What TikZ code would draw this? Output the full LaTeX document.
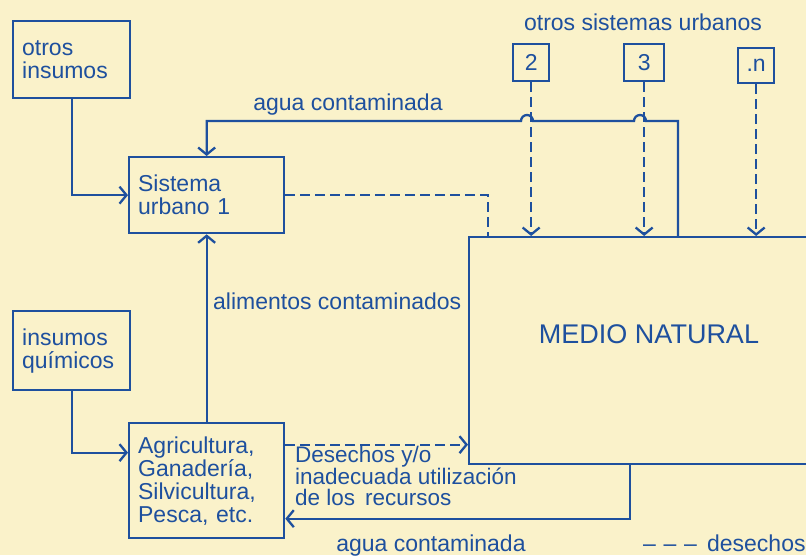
\documentclass[tikz,border=0pt]{standalone}
\usepackage{fontspec}
\setmainfont{Liberation Sans}
\usetikzlibrary{arrows.meta}
\definecolor{tinta}{RGB}{30,80,158}
\definecolor{papel}{RGB}{250,242,202}
\tikzset{
  caja/.style={draw=tinta, line width=2.3pt, text=tinta, align=left,
    anchor=north west, inner xsep=9pt, inner ysep=0pt},
  cajita/.style={draw=tinta, line width=2.3pt, text=tinta,
    anchor=north west, inner sep=0pt},
  rotulo/.style={text=tinta, inner sep=0pt},
  punta/.style={-{Straight Barb[length=7pt,width=17pt]}},
  flujo/.style={draw=tinta, line width=2.3pt, punta},
  desecho/.style={draw=tinta, line width=2.3pt, dash pattern=on 10pt off 5pt},
}
\begin{document}
\begin{tikzpicture}[x=1pt, y=-1pt, font=\fontsize{23}{23}\selectfont]
    \useasboundingbox (0,0) rectangle (806,555);
    \fill[papel] (0,0) rectangle (806,555);
    \clip (0,0) rectangle (806,555);
    %% sistemas
    \node[caja, text width=99pt, minimum height=77pt] (oi) at (12,20) {otros\\insumos};
    \node[caja, text width=137pt, minimum height=76pt] (su) at (128,156) {Sistema\\urbano 1};
    \node[caja, text width=99pt, minimum height=79pt] (iq) at (12,310) {insumos\\químicos};
    \node[caja, text width=137pt, minimum height=115pt] (agr) at (128,422) {Agricultura,\\Ganadería,\\Silvicultura,\\Pesca, etc.};
    %% otros sistemas urbanos
    \node[rotulo, anchor=base] (osu) at (643,30) {otros sistemas urbanos};
    \node[cajita, minimum width=36pt, minimum height=37pt] (s2) at (512,43) {2};
    \node[cajita, minimum width=40pt, minimum height=37pt] (s3) at (623,43) {3};
    \node[cajita, minimum width=36pt, minimum height=35pt] (sn) at (737,47) {.n};
    %% medio natural
    \node[cajita, minimum width=360pt, minimum height=227pt] (md) at (468,236) {};
    \node[rotulo, anchor=base, font=\fontsize{27}{27}\selectfont] (mdt) at (649,343) {MEDIO NATURAL};
    %% insumos
    \draw[flujo] (oi.south) |- (su.west);
    \draw[flujo] (iq.south) |- ([yshift=28pt]agr.west);
    %% alimentos contaminados
    \draw[flujo] (agr.north) -- (su.south);
    \node[rotulo, anchor=base west] (alc) at (213,309) {alimentos contaminados};
    %% agua contaminada (arriba)
    \coordinate (nivel) at (0,121);
    \draw[flujo] ([xshift=210pt]md.north west) |- (646,121)
        arc[start angle=0, end angle=-180, radius=6] -- (533,121)
        arc[start angle=0, end angle=-180, radius=6] -- (su.north |- nivel) -- (su.north);
    \node[rotulo, anchor=base] (ac1) at (348,110) {agua contaminada};
    %% desechos
    \draw[desecho] (su.east) -| ([xshift=20pt]md.north west);
    \foreach \s in {s2,s3,sn}
        \draw[desecho, punta] (\s.south) -- (\s.south |- md.north);
    \draw[desecho, punta] ([yshift=36pt]agr.east) -- ([yshift=36pt]agr.east -| md.west);
    \node[rotulo, anchor=north west, align=left, font=\fontsize{22.5}{21}\selectfont] (dur) at (295,446) {Desechos y/o\\inadecuada utilización\\de los\, recursos};
    %% agua contaminada (abajo)
    \draw[flujo] ([xshift=162pt]md.south west) |- ([yshift=-38pt]agr.east);
    \node[rotulo, anchor=base] (ac2) at (431,551) {agua contaminada};
    %% leyenda
    \node[rotulo, anchor=base west] (ley) at (643,551) {–\,\,–\,\,–\, desechos};
\end{tikzpicture}
\end{document}
